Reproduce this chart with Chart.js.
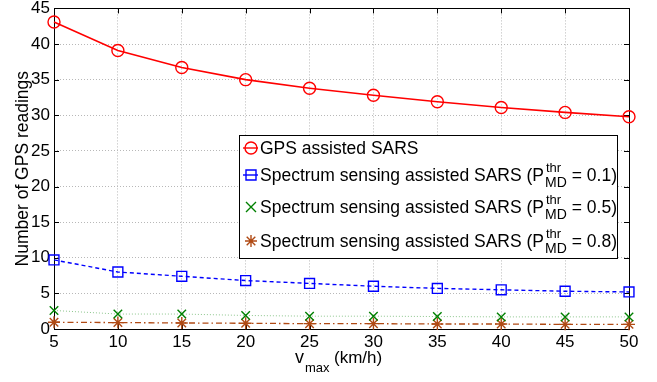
<!DOCTYPE html>
<html>
<head>
<meta charset="utf-8">
<script src="https://cdn.jsdelivr.net/npm/chart.js@4.4.1/dist/chart.umd.min.js"></script>
<style>
  html, body { margin: 0; padding: 0; background: #fff; }
  #wrap { width: 657px; height: 382px; }
</style>
</head>
<body>
<div id="wrap"><canvas id="chart"></canvas></div>
<script>
const vmax = [5, 10, 15, 20, 25, 30, 35, 40, 45, 50];
const gpsSars = [43.1, 39.1, 36.7, 35.0, 33.8, 32.8, 31.9, 31.1, 30.4, 29.8];
const ssPmd01 = [9.7, 8.0, 7.4, 6.8, 6.4, 6.0, 5.7, 5.5, 5.3, 5.2];
const ssPmd05 = [2.6, 2.1, 2.1, 1.9, 1.8, 1.8, 1.75, 1.7, 1.7, 1.7];
const ssPmd08 = [0.95, 0.9, 0.85, 0.8, 0.75, 0.75, 0.7, 0.7, 0.65, 0.65];
const xTicks = [5, 10, 15, 20, 25, 30, 35, 40, 45, 50];
const yTicks = [0, 5, 10, 15, 20, 25, 30, 35, 40, 45];
const legendNames = ['GPS assisted SARS', 'Spectrum sensing assisted SARS', 'Spectrum sensing assisted SARS', 'Spectrum sensing assisted SARS'];
const pmdThr = [null, '0.1', '0.5', '0.8'];

const RED = '#ff0000';
const BLUE = '#0000ff';
const GREEN = '#008000';
const BROWN = '#b04a14';
const FONT = '"Liberation Sans", Arial, Helvetica, sans-serif';

const toPoints = (ys) => vmax.map((x, i) => ({ x, y: ys[i] }));

// markers drawn by hand for the legend, same look as the plotted points
function drawMarker(ctx, style, x, y, color) {
    ctx.save();
    ctx.strokeStyle = color;
    ctx.lineWidth = 1.4;
    ctx.setLineDash([]);
    ctx.beginPath();
    if (style === 'circle') {
        ctx.arc(x, y, 6, 0, Math.PI * 2);
    } else if (style === 'rect') {
        ctx.rect(x - 5, y - 5, 10, 10);
    } else if (style === 'crossRot') {
        ctx.moveTo(x - 5, y - 5); ctx.lineTo(x + 5, y + 5);
        ctx.moveTo(x - 5, y + 5); ctx.lineTo(x + 5, y - 5);
    } else {
        ctx.moveTo(x, y - 6); ctx.lineTo(x, y + 6);
        ctx.moveTo(x - 6, y); ctx.lineTo(x + 6, y);
        ctx.moveTo(x - 4.3, y - 4.3); ctx.lineTo(x + 4.3, y + 4.3);
        ctx.moveTo(x - 4.3, y + 4.3); ctx.lineTo(x + 4.3, y - 4.3);
    }
    ctx.stroke();
    ctx.restore();
}

const framePlugin = {
    id: 'frame',
    beforeDatasetsDraw(chart) {
        const { ctx, chartArea: a, scales: { x, y } } = chart;
        ctx.save();
        ctx.strokeStyle = '#000';
        ctx.lineWidth = 1;
        ctx.beginPath();
        xTicks.forEach((t) => {
            const px = Math.round(x.getPixelForValue(t)) + 0.5;
            ctx.moveTo(px, a.bottom); ctx.lineTo(px, a.bottom - 5);
            ctx.moveTo(px, a.top); ctx.lineTo(px, a.top + 5);
        });
        yTicks.forEach((t) => {
            const py = Math.round(y.getPixelForValue(t)) + 0.5;
            ctx.moveTo(a.left, py); ctx.lineTo(a.left + 5, py);
            ctx.moveTo(a.right, py); ctx.lineTo(a.right - 5, py);
        });
        ctx.stroke();
        ctx.strokeRect(Math.round(a.left) + 0.5, Math.round(a.top) + 0.5,
            Math.round(a.right - a.left), Math.round(a.bottom - a.top));
        ctx.restore();
    },
    afterDraw(chart) {
        const { ctx, chartArea: a } = chart;
        ctx.save();
        ctx.fillStyle = '#000';
        ctx.textBaseline = 'alphabetic';

        // y title
        ctx.save();
        ctx.translate(28, (a.top + a.bottom) / 2);
        ctx.rotate(-Math.PI / 2);
        ctx.font = `17.5px ${FONT}`;
        ctx.textAlign = 'center';
        ctx.fillText('Number of GPS readings', 0, 0);
        ctx.restore();

        // x title  v_max (km/h)
        ctx.font = `18px ${FONT}`;
        ctx.textAlign = 'left';
        ctx.fillText('v', 295, 363);
        ctx.font = `13px ${FONT}`;
        ctx.fillText('max', 305, 372);
        ctx.font = `17px ${FONT}`;
        ctx.fillText('(km/h)', 334, 363);

        // legend box
        const box = { l: 239.5, t: 135.5, r: 617.5, b: 258.5 };
        ctx.fillStyle = '#fff';
        ctx.fillRect(box.l, box.t, box.r - box.l, box.b - box.t);
        ctx.strokeStyle = '#000';
        ctx.lineWidth = 1;
        ctx.strokeRect(box.l, box.t, box.r - box.l, box.b - box.t);

        const rowY = [148, 175, 207, 241];
        chart.data.datasets.forEach((ds, i) => {
            const cy = rowY[i];
            const col = ds.pointBorderColor;
            ctx.save();
            ctx.strokeStyle = col;
            ctx.lineWidth = 1.4;
            ctx.beginPath();
            if (i < 2) { ctx.moveTo(243, cy); ctx.lineTo(258, cy); }
            ctx.stroke();
            ctx.restore();
            drawMarker(ctx, ds.pointStyle, 251, cy, col);

            ctx.fillStyle = '#000';
            ctx.font = `17.5px ${FONT}`;
            ctx.textAlign = 'left';
            const base = cy + 6;
            if (!pmdThr[i]) {
                ctx.fillText(legendNames[i], 260, base);
                return;
            }
            const head = legendNames[i] + ' (P';
            ctx.fillText(head, 260, base);
            const sx = 260 + ctx.measureText(head).width + 1;
            ctx.font = `13px ${FONT}`;
            const supW = ctx.measureText('thr').width;
            ctx.fillText('thr', sx + 1, base - 9);
            ctx.font = `14px ${FONT}`;
            const subW = ctx.measureText('MD').width;
            ctx.fillText('MD', sx, base + 6);
            ctx.font = `17.5px ${FONT}`;
            ctx.fillText('= ' + pmdThr[i] + ')', sx + Math.max(supW, subW) + 5, base);
        });
        ctx.restore();
    },
};

new Chart(document.getElementById('chart'), {
    type: 'line',
    data: {
        datasets: [
            {
                label: 'GPS assisted SARS',
                data: toPoints(gpsSars),
                borderColor: RED,
                borderWidth: 1.6,
                pointStyle: 'circle',
            },
            {
                label: 'Spectrum sensing assisted SARS (Pthr MD = 0.1)',
                data: toPoints(ssPmd01),
                borderColor: BLUE,
                borderWidth: 1.4,
                borderDash: [4, 3],
                pointStyle: 'rect',
            },
            {
                label: 'Spectrum sensing assisted SARS (Pthr MD = 0.5)',
                data: toPoints(ssPmd05),
                borderColor: 'rgba(0,128,0,0.45)',
                borderWidth: 1,
                borderDash: [1, 2],
                pointStyle: 'crossRot',
                markerColor: GREEN,
            },
            {
                label: 'Spectrum sensing assisted SARS (Pthr MD = 0.8)',
                data: toPoints(ssPmd08),
                borderColor: BROWN,
                borderWidth: 1.3,
                borderDash: [6, 3, 1.5, 3],
                pointStyle: 'star',
            },
        ].map((ds) => ({
            ...ds,
            tension: 0,
            fill: false,
            clip: false,
            pointRadius: ds.pointStyle === 'rect' ? 7 : 6,
            pointBorderWidth: 1.4,
            pointBorderColor: ds.markerColor || ds.borderColor,
            pointBackgroundColor: 'rgba(0,0,0,0)',
        })),
    },
    plugins: [framePlugin],
    options: {
        responsive: true,
        maintainAspectRatio: false,
        animation: false,
        events: [],
        layout: { padding: { top: 6, right: 28, left: 0, bottom: 0 } },
        plugins: { legend: { display: false }, tooltip: { enabled: false } },
        scales: {
            x: {
                type: 'linear',
                min: 5,
                max: 50,
                afterBuildTicks: (s) => { s.ticks = xTicks.map((v) => ({ value: v })); },
                afterFit: (s) => { s.height = 53; s.paddingLeft = 0; s.paddingRight = 0; },
                ticks: { color: '#000', font: { family: FONT, size: 17 }, padding: 3, maxRotation: 0 },
                grid: { color: '#b8b8b8', lineWidth: 1, drawTicks: false },
                border: { display: false, dash: [1, 2] },
            },
            y: {
                type: 'linear',
                min: 0,
                max: 45,
                afterBuildTicks: (s) => { s.ticks = yTicks.map((v) => ({ value: v })); },
                afterFit: (s) => { s.width = 54; s.paddingTop = 0; s.paddingBottom = 0; },
                ticks: { color: '#000', font: { family: FONT, size: 17 }, padding: 4 },
                grid: { color: '#b8b8b8', lineWidth: 1, drawTicks: false },
                border: { display: false, dash: [1, 2] },
            },
        },
    },
});
</script>
</body>
</html>
